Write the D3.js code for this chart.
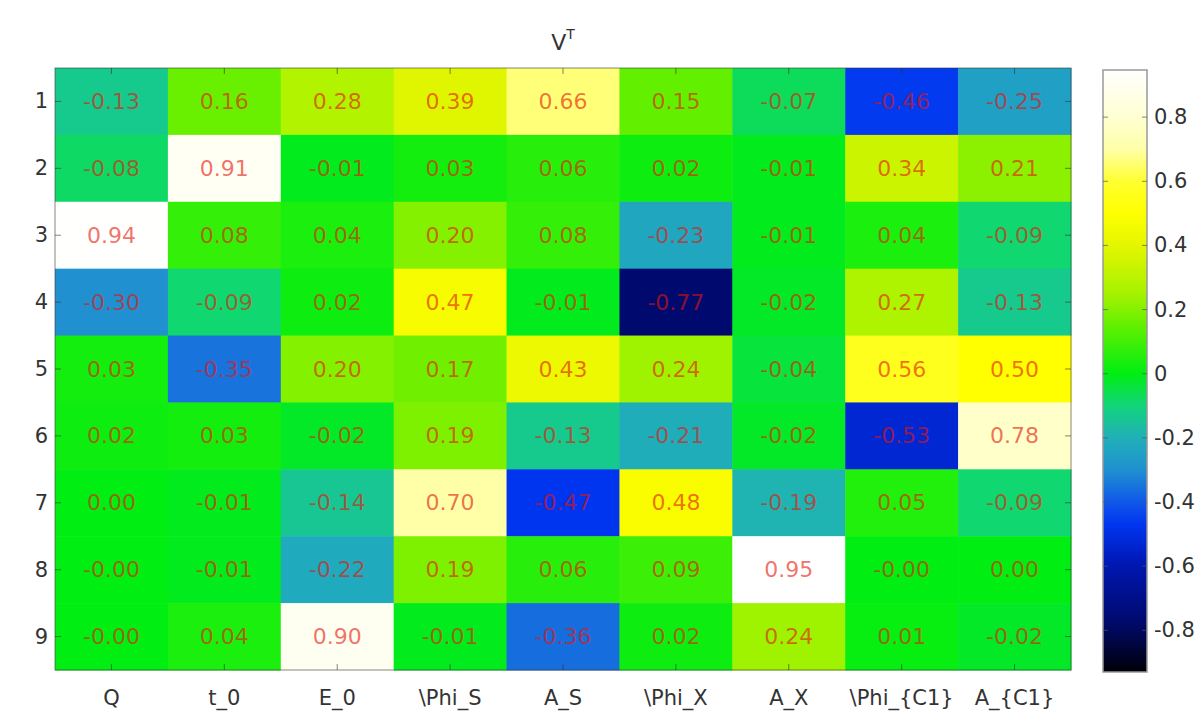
<!DOCTYPE html>
<html>
<head>
<meta charset="utf-8">
<script src="https://cdn.jsdelivr.net/npm/d3@7"></script>
<style>
  html, body { margin: 0; padding: 0; background: #fff; }
  svg { display: block; }
</style>
</head>
<body>
<svg id="chart" width="1204" height="717"></svg>
<script>
// Parameter names (columns) and component indices (rows)
const columns = ["Q", "t_0", "E_0", "\\Phi_S", "A_S", "\\Phi_X", "A_X", "\\Phi_{C1}", "A_{C1}"];
const rows = ["1", "2", "3", "4", "5", "6", "7", "8", "9"];

// Entries of V^T, one array per row
const row1 = [-0.13, 0.16, 0.28, 0.39, 0.66, 0.15, -0.07, -0.46, -0.25];
const row2 = [-0.08, 0.91, -0.01, 0.03, 0.06, 0.02, -0.01, 0.34, 0.21];
const row3 = [0.94, 0.08, 0.04, 0.20, 0.08, -0.23, -0.01, 0.04, -0.09];
const row4 = [-0.30, -0.09, 0.02, 0.47, -0.01, -0.77, -0.02, 0.27, -0.13];
const row5 = [0.03, -0.35, 0.20, 0.17, 0.43, 0.24, -0.04, 0.56, 0.50];
const row6 = [0.02, 0.03, -0.02, 0.19, -0.13, -0.21, -0.02, -0.53, 0.78];
const row7 = [0.00, -0.01, -0.14, 0.70, -0.47, 0.48, -0.19, 0.05, -0.09];
const row8 = [-0.00, -0.01, -0.22, 0.19, 0.06, 0.09, 0.95, -0.00, 0.00];
const row9 = [-0.00, 0.04, 0.90, -0.01, -0.36, 0.02, 0.24, 0.01, -0.02];
const matrix = [row1, row2, row3, row4, row5, row6, row7, row8, row9];

// Colour bar ticks
const colorbarTicks = [0.8, 0.6, 0.4, 0.2, 0, -0.2, -0.4, -0.6, -0.8];

// Colormap stops: black -> blue -> teal -> green -> yellow -> white
const cmapStops = [-0.93, -0.77, -0.6, -0.47, -0.4, -0.3, -0.2, -0.1, 0, 0.15, 0.25, 0.4, 0.5, 0.6, 0.7, 0.8, 0.947];
const cmapColors = ["#000008", "#000a6e", "#0016b0", "#0035f0", "#1058e8", "#2090d0", "#20b0b8",
                    "#12d47a", "#00ee12", "#62f000", "#a6f200", "#e4f600", "#ffff00", "#ffff30",
                    "#ffffa8", "#ffffd2", "#ffffff"];

const color = d3.scaleLinear().domain(cmapStops).range(cmapColors).interpolate(d3.interpolateRgb).clamp(true);

const svg = d3.select("#chart");

const plot = { left: 55, right: 1071, top: 68, bottom: 670 };
const x = d3.scaleBand().domain(columns).range([plot.left, plot.right]);
const y = d3.scaleBand().domain(rows).range([plot.top, plot.bottom]);

const cells = [];
matrix.forEach((r, i) => r.forEach((v, j) => cells.push({ row: rows[i], col: columns[j], value: v })));

const fmt = v => (v < 0 || Object.is(v, -0)) ? "-" + Math.abs(v).toFixed(2) : v.toFixed(2);

const axisFont = "DejaVu Sans, Verdana, sans-serif";

// Heatmap cells
svg.append("g").selectAll("rect")
  .data(cells).join("rect")
  .attr("x", d => x(d.col))
  .attr("y", d => y(d.row))
  .attr("width", x.bandwidth() + 0.5)
  .attr("height", y.bandwidth() + 0.5)
  .attr("fill", d => color(d.value));

// Value labels (translucent red, tinted by the cell underneath)
svg.append("g").selectAll("text")
  .data(cells).join("text")
  .attr("x", d => x(d.col) + x.bandwidth() / 2)
  .attr("y", d => y(d.row) + y.bandwidth() / 2)
  .attr("text-anchor", "middle")
  .attr("dominant-baseline", "central")
  .attr("font-family", axisFont)
  .attr("font-size", 22)
  .attr("fill", "#e81408")
  .attr("fill-opacity", 0.62)
  .text(d => fmt(d.value));

// Frame
svg.append("rect")
  .attr("x", plot.left).attr("y", plot.top)
  .attr("width", plot.right - plot.left).attr("height", plot.bottom - plot.top)
  .attr("fill", "none").attr("stroke", "#3a3a3a").attr("stroke-opacity", 0.6).attr("stroke-width", 1);

// Inward tick marks on all four sides
const tickLen = 6;
const tickG = svg.append("g").attr("stroke", "#333").attr("stroke-opacity", 0.6).attr("stroke-width", 1);
columns.forEach(c => {
  const cx = x(c) + x.bandwidth() / 2;
  tickG.append("line").attr("x1", cx).attr("x2", cx).attr("y1", plot.top).attr("y2", plot.top + tickLen);
  tickG.append("line").attr("x1", cx).attr("x2", cx).attr("y1", plot.bottom).attr("y2", plot.bottom - tickLen);
});
rows.forEach(r => {
  const cy = y(r) + y.bandwidth() / 2;
  tickG.append("line").attr("x1", plot.left).attr("x2", plot.left + tickLen).attr("y1", cy).attr("y2", cy);
  tickG.append("line").attr("x1", plot.right).attr("x2", plot.right - tickLen).attr("y1", cy).attr("y2", cy);
});

// Axis labels
svg.append("g").selectAll("text")
  .data(rows).join("text")
  .attr("x", plot.left - 7)
  .attr("y", d => y(d) + y.bandwidth() / 2)
  .attr("text-anchor", "end")
  .attr("dominant-baseline", "central")
  .attr("font-family", axisFont)
  .attr("font-size", 21)
  .attr("fill", "#333")
  .text(d => d);

svg.append("g").selectAll("text")
  .data(columns).join("text")
  .attr("x", d => x(d) + x.bandwidth() / 2)
  .attr("y", 698)
  .attr("text-anchor", "middle")
  .attr("dominant-baseline", "central")
  .attr("font-family", axisFont)
  .attr("font-size", 21)
  .attr("fill", "#333")
  .text(d => d);

// Title V^T
const title = svg.append("text")
  .attr("x", 563).attr("y", 50)
  .attr("text-anchor", "middle")
  .attr("font-family", axisFont)
  .attr("font-size", 22)
  .attr("fill", "#333");
title.append("tspan").text("V");
title.append("tspan").attr("dy", -11).attr("font-size", 14).text("T");

// Colour bar
const cb = { left: 1103, right: 1147, top: 70, bottom: 672 };
const cbScale = d3.scaleLinear().domain([cmapStops[0], cmapStops[cmapStops.length - 1]]).range([cb.bottom, cb.top]);

const defs = svg.append("defs");
const grad = defs.append("linearGradient").attr("id", "cbgrad")
  .attr("x1", 0).attr("y1", 1).attr("x2", 0).attr("y2", 0);
grad.selectAll("stop")
  .data(cmapStops).join("stop")
  .attr("offset", d => (d - cmapStops[0]) / (cmapStops[cmapStops.length - 1] - cmapStops[0]))
  .attr("stop-color", d => color(d));

svg.append("rect")
  .attr("x", cb.left).attr("y", cb.top)
  .attr("width", cb.right - cb.left).attr("height", cb.bottom - cb.top)
  .attr("fill", "url(#cbgrad)")
  .attr("stroke", "#999").attr("stroke-width", 1.5);

const cbTicks = svg.append("g").attr("stroke", "#555").attr("stroke-opacity", 0.7);
colorbarTicks.forEach(t => {
  const ty = cbScale(t);
  cbTicks.append("line").attr("x1", cb.left).attr("x2", cb.left + 5).attr("y1", ty).attr("y2", ty);
  cbTicks.append("line").attr("x1", cb.right).attr("x2", cb.right - 5).attr("y1", ty).attr("y2", ty);
});

svg.append("g").selectAll("text")
  .data(colorbarTicks).join("text")
  .attr("x", cb.right + 7)
  .attr("y", d => cbScale(d))
  .attr("dominant-baseline", "central")
  .attr("font-family", axisFont)
  .attr("font-size", 21)
  .attr("fill", "#333")
  .text(d => d === 0 ? "0" : (d < 0 ? "-" + Math.abs(d) : String(d)));
</script>
</body>
</html>
